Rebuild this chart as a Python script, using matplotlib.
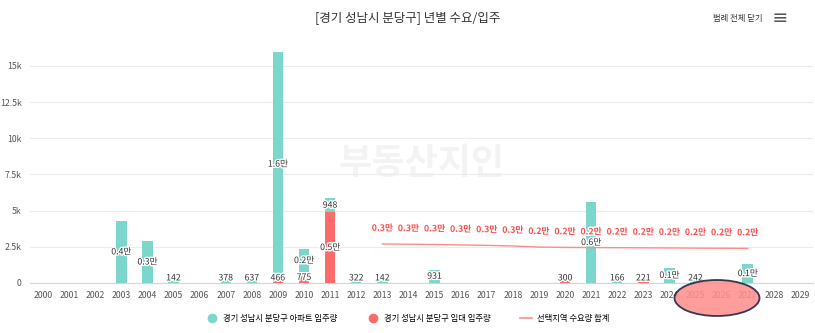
import matplotlib
matplotlib.use("Agg")
import matplotlib.pyplot as plt
import matplotlib.patheffects as pe
from matplotlib.lines import Line2D
from matplotlib.patches import Ellipse

plt.rcParams['font.family'] = ['Noto Sans CJK KR', 'DejaVu Sans']

years = list(range(2000, 2030))

# 아파트 입주량 / 임대 입주량 (연도별)
apt = {2003: 4300, 2004: 2900, 2005: 142, 2007: 378, 2008: 637, 2009: 15500,
       2010: 1550, 2011: 948, 2012: 322, 2013: 142, 2015: 931, 2021: 5600,
       2022: 166, 2024: 1050, 2025: 242, 2027: 1300}
rent = {2009: 466, 2010: 775, 2011: 4900, 2020: 300, 2023: 221}

# 선택지역 수요량 합계
demand_years = list(range(2013, 2028))
demand = [2700, 2680, 2660, 2630, 2600, 2560, 2480, 2460, 2450,
          2440, 2430, 2420, 2410, 2400, 2390]

TEAL = '#7dd6cc'
RED = '#ff6b6b'
LINE = '#ff8c8c'


def fmt(v):
    if v >= 1000:
        return f"{v / 10000:.1f}만"
    return f"{int(v)}"


fig = plt.figure(figsize=(8.15, 3.33), dpi=100)
ax = fig.add_axes([0.0368, 0.1502, 0.9607, 0.7168])

outline = [pe.withStroke(linewidth=2, foreground='white')]
idx = {y: i for i, y in enumerate(years)}

for y in years:
    r = rent.get(y, 0)
    a = apt.get(y, 0)
    x = idx[y]
    if r:
        ax.bar(x, r, width=0.4, color=RED, zorder=3)
        ax.text(x, max(r / 2, 350), fmt(r), ha='center', va='center', fontsize=6.3,
                color='#333333', path_effects=outline, zorder=6)
    if a:
        ax.bar(x, a, bottom=r, width=0.4, color=TEAL, zorder=3)
        ax.text(x, max(r + a / 2, r + 350), fmt(a), ha='center', va='center', fontsize=6.3,
                color='#333333', path_effects=outline, zorder=6)

dx = [idx[y] for y in demand_years]
ax.plot(dx, demand, color=LINE, lw=1.0, zorder=4)
for x, v in zip(dx, demand):
    ax.annotate(fmt(v), (x, v), xytext=(0, 8), textcoords='offset points',
                ha='center', va='bottom', fontsize=6.3, color='#ff4d4d',
                fontweight='bold', path_effects=outline, zorder=6)

ax.set_xlim(-0.5, len(years) - 0.5)
ax.set_ylim(0, 16500)
ax.set_xticks(range(len(years)))
ax.set_xticklabels([str(y) for y in years], fontsize=6.3, color='#555555')
ax.set_yticks([0, 2500, 5000, 7500, 10000, 12500, 15000])
ax.set_yticklabels(['0', '2.5k', '5k', '7.5k', '10k', '12.5k', '15k'],
                   fontsize=6.3, color='#555555')
ax.tick_params(length=0, pad=6)
ax.grid(axis='y', color='#ececec', lw=0.8, zorder=0)
for s in ['top', 'right', 'left']:
    ax.spines[s].set_visible(False)
ax.spines['bottom'].set_color('#ccd6eb')
ax.spines['bottom'].set_linewidth(0.8)

# 워터마크
ax.text(0.5, 0.5, '부동산지인', transform=ax.transAxes, ha='center', va='center',
        fontsize=26, fontweight='bold', color='#f3f3f3', zorder=1)

fig.text(0.5, 0.948, '[경기 성남시 분당구] 년별 수요/입주', ha='center', va='center',
         fontsize=9, color='#333333')
fig.text(0.935, 0.944, '범례 전체 닫기', ha='right', va='center', fontsize=6,
         color='#333333')
fig.text(0.957, 0.944, '≡', ha='center', va='center', fontsize=12, color='#555555',
         fontweight='bold')

handles = [
    Line2D([], [], marker='o', ls='', color=TEAL, markersize=6),
    Line2D([], [], marker='o', ls='', color=RED, markersize=6),
    Line2D([], [], color=LINE, lw=1.2),
]
labels = ['경기 성남시 분당구 아파트 입주량', '경기 성남시 분당구 임대 입주량', '선택지역 수요량 합계']
fig.legend(handles, labels, loc='center', bbox_to_anchor=(0.5, 0.045), ncol=3,
           frameon=False, fontsize=6, columnspacing=3.5, handlelength=1.5,
           handletextpad=0.6)

# 2025~2027 강조 표시
fig.add_artist(Ellipse((717 / 815, 1 - 298 / 333), 85 / 815, 36 / 333,
                       transform=fig.transFigure, facecolor='#ff8e8e', alpha=0.88,
                       edgecolor='#1c2340', lw=1.3, zorder=10))

fig.savefig('out.png', dpi=100)
